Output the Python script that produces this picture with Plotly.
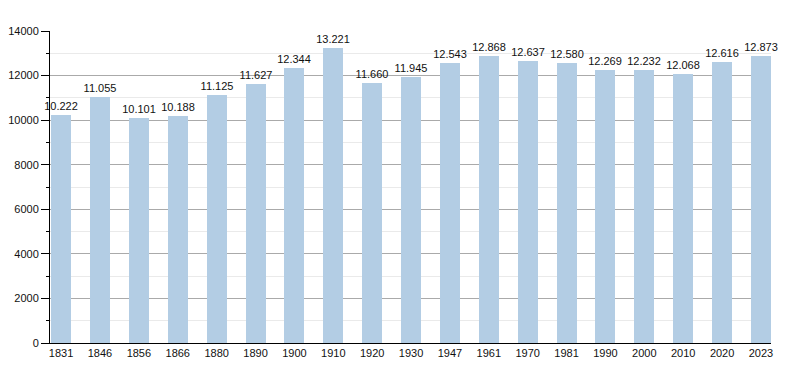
import plotly.graph_objects as go

years = ["1831", "1846", "1856", "1866", "1880", "1890", "1900", "1910", "1920", "1930",
         "1947", "1961", "1970", "1981", "1990", "2000", "2010", "2020", "2023"]
population = [10222, 11055, 10101, 10188, 11125, 11627, 12344, 13221, 11660, 11945,
              12543, 12868, 12637, 12580, 12269, 12232, 12068, 12616, 12873]
y_ticks = [0, 2000, 4000, 6000, 8000, 10000, 12000, 14000]
y_tick_labels = ["0", "2000", "4000", "6000", "8000", "10000", "12000", "14000"]

labels = [f"{v:,}".replace(",", ".") for v in population]
xs = list(range(len(years)))
bw = 0.515

fig = go.Figure(go.Bar(
    x=xs, y=population, width=bw,
    marker=dict(color="#b3cde4", line=dict(width=0)),
    text=labels, textposition="outside", cliponaxis=False,
    constraintext="none", textangle=0,
    textfont=dict(family="Liberation Sans, Arial", size=11, color="#111"),
    hoverinfo="x+y",
))

# the page body has an 8px margin, so the figure is offset by 8px
fig.update_layout(
    width=792, height=365,
    margin=dict(l=42, r=29, t=23, b=30, autoexpand=False),
    plot_bgcolor="white", paper_bgcolor="white",
    showlegend=False,
    font=dict(family="Liberation Sans, Arial", size=11, color="#111"),
    xaxis=dict(
        range=[-bw / 2 - 0.028, len(years) - 1 + bw / 2],
        tickmode="array", tickvals=xs, ticktext=years,
        showgrid=False, showline=True, linecolor="black", linewidth=1,
        ticks="", tickfont=dict(size=11), zeroline=False, automargin=False,
    ),
    yaxis=dict(
        range=[0, 14000],
        tickmode="array", tickvals=y_ticks, ticktext=y_tick_labels,
        showgrid=True, gridcolor="#aaaaaa", gridwidth=1,
        showline=True, linecolor="black", linewidth=1,
        ticks="outside", ticklen=8, tickcolor="black", tickwidth=1,
        tickfont=dict(size=11), zeroline=False, automargin=False,
        minor=dict(dtick=1000, showgrid=True, gridcolor="#eaeaea", gridwidth=1,
                   ticks="outside", ticklen=3, tickcolor="black"),
    ),
    bargap=0,
)

fig.write_html("out.html")
